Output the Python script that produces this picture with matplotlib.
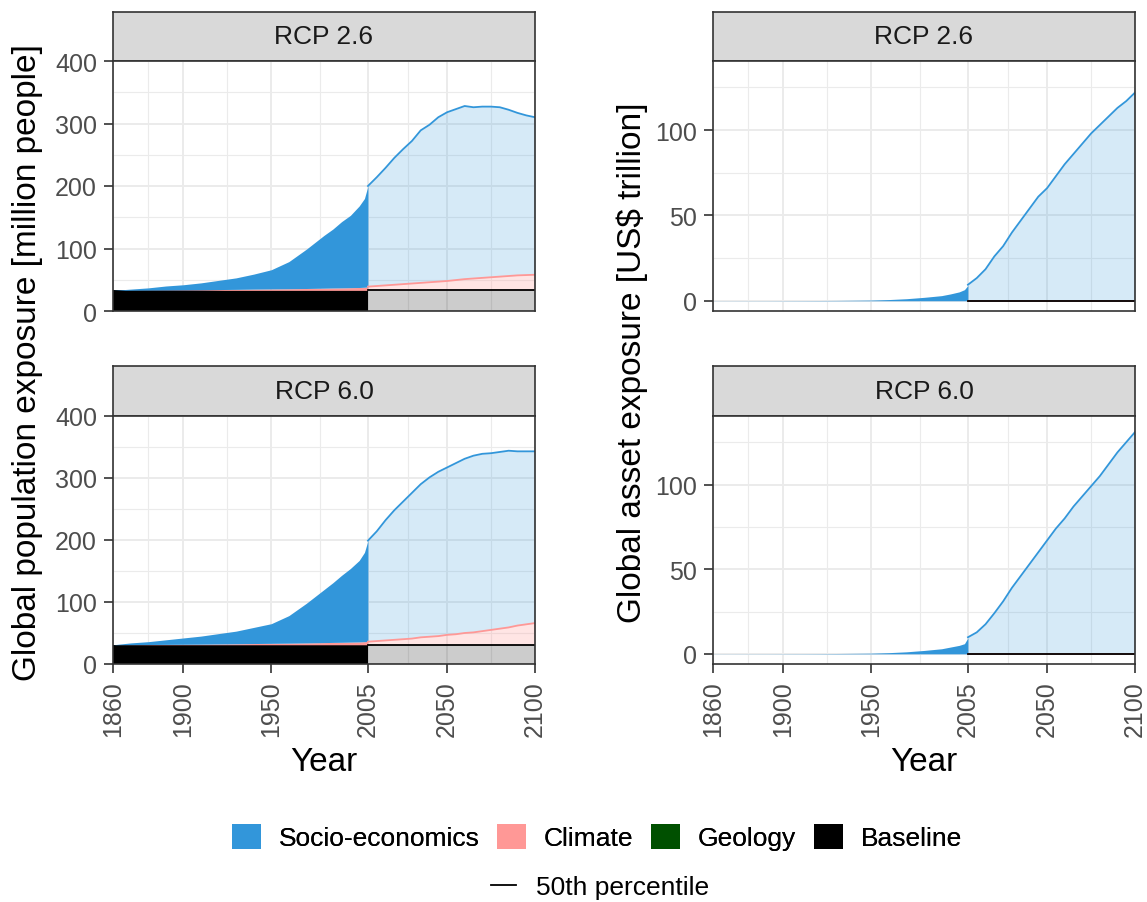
import matplotlib.pyplot as plt
import matplotlib.patches as mpatches
from matplotlib.lines import Line2D
import numpy as np

plt.rcParams["font.family"] = ["Liberation Sans", "DejaVu Sans"]

# ---------------- data ----------------
hist_years = [1860, 1870, 1880, 1890, 1900, 1910, 1920, 1930, 1940, 1950,
              1960, 1970, 1980, 1985, 1990, 1995, 2000, 2003, 2005]
fut_years = [2005, 2010, 2015, 2020, 2025, 2030, 2035, 2040, 2045, 2050,
             2055, 2060, 2065, 2070, 2075, 2080, 2085, 2090, 2095, 2100]

# population exposure (million people), cumulative layer tops
pop_baseline = {"RCP 2.6": 33, "RCP 6.0": 31}
pop_hist_climate = {
    "RCP 2.6": [33, 33.2, 33.4, 33.6, 33.8, 34, 34.3, 34.6, 35, 35.3,
                35.6, 36, 36.5, 36.8, 37, 37.3, 37.6, 38, 38.5],
    "RCP 6.0": [31, 31.2, 31.4, 31.6, 31.8, 32, 32.3, 32.6, 33, 33.3,
                33.6, 34, 34.5, 34.8, 35, 35.3, 35.6, 36, 36.5],
}
pop_hist_socio = {
    "RCP 2.6": [33, 35, 37, 40, 42, 45, 49, 53, 59, 66,
                79, 99, 121, 131, 143, 153, 168, 180, 200],
    "RCP 6.0": [31, 34, 36, 39, 42, 45, 49, 53, 59, 65,
                78, 98, 120, 131, 143, 154, 167, 180, 199],
}
pop_fut_climate = {
    "RCP 2.6": [39, 40, 41, 42, 43, 44, 45, 46, 47, 48,
                49.5, 51, 52, 53, 54, 55, 56, 57, 57.5, 58],
    "RCP 6.0": [36, 37, 38, 39, 40, 41, 43, 44, 45, 47,
                48, 50, 51, 53, 55, 57, 59, 62, 64, 66],
}
pop_fut_socio = {
    "RCP 2.6": [200, 214, 229, 245, 259, 272, 289, 298, 310, 318,
                323, 328, 326, 327, 327, 326, 322, 317, 313, 310],
    "RCP 6.0": [199, 214, 232, 248, 262, 276, 290, 301, 310, 317,
                324, 331, 336, 339, 340, 342, 344, 343, 343, 343],
}

# asset exposure (US$ trillion), cumulative layer tops
asset_baseline = {"RCP 2.6": 0, "RCP 6.0": 0}
asset_hist_climate = {
    "RCP 2.6": [0] * 19,
    "RCP 6.0": [0] * 19,
}
asset_hist_socio = {
    "RCP 2.6": [0.05, 0.06, 0.07, 0.08, 0.1, 0.12, 0.15, 0.2, 0.3, 0.4,
                0.7, 1.2, 2.0, 2.5, 3.0, 4.0, 5.2, 6.5, 9.0],
    "RCP 6.0": [0.05, 0.06, 0.07, 0.08, 0.1, 0.12, 0.15, 0.2, 0.3, 0.4,
                0.7, 1.2, 2.0, 2.5, 3.0, 4.0, 5.0, 6.0, 9.5],
}
asset_fut_climate = {
    "RCP 2.6": [0] * 20,
    "RCP 6.0": [0] * 20,
}
asset_fut_socio = {
    "RCP 2.6": [9.4, 13.3, 18.5, 26, 32, 40, 47, 54, 61, 66,
                73, 80, 86, 92, 98, 103, 108, 113, 117, 122],
    "RCP 6.0": [9.8, 12.7, 17.5, 24, 31, 39, 46, 53, 60, 67,
                74, 80, 87, 93, 99, 105, 112, 119, 125, 131],
}

scenarios = ["RCP 2.6", "RCP 6.0"]
x_ticks = [1860, 1900, 1950, 2005, 2050, 2100]

BLUE = "#3296DA"
PINK = "#FF9896"
GREEN = "#005000"
BLACK = "#000000"
GRID = "#EBEBEB"
FRAME = "#333333"

W, H = 1147, 903
fig = plt.figure(figsize=(W / 100, H / 100), dpi=100)


def px_axes(x0, y0, x1, y1):
    return fig.add_axes([x0 / W, 1 - y1 / H, (x1 - x0) / W, (y1 - y0) / H])


def draw_panel(ax, base, h_clim, h_soc, f_clim, f_soc, ylim, yticks, yminor, bottom):
    hy = np.array(hist_years)
    fy = np.array(fut_years)
    hb = np.full(len(hy), base)
    fb = np.full(len(fy), base)
    # historical: solid stacked areas
    ax.fill_between(hy, 0, hb, color=BLACK, lw=0, zorder=2)
    ax.fill_between(hy, hb, h_clim, color=PINK, lw=0, zorder=2)
    ax.fill_between(hy, h_clim, h_soc, color=BLUE, lw=0, zorder=2)
    # future: light areas with 50th percentile lines
    ax.fill_between(fy, 0, fb, color=BLACK, alpha=0.2, lw=0, zorder=2)
    ax.fill_between(fy, fb, f_clim, color=PINK, alpha=0.25, lw=0, zorder=2)
    ax.fill_between(fy, f_clim, f_soc, color=BLUE, alpha=0.2, lw=0, zorder=2)
    ax.plot(fy, f_soc, color=BLUE, lw=1.3, zorder=3)
    ax.plot(fy, f_clim, color=PINK, lw=1.3, zorder=3)
    ax.plot(fy, fb, color=BLACK, lw=1.3, zorder=3)

    ax.set_xlim(1860, 2100)
    ax.set_ylim(*ylim)
    ax.set_xticks(x_ticks)
    ax.set_xticks([1880, 1925, 1977.5, 2027.5, 2075], minor=True)
    ax.set_yticks(yticks)
    ax.set_yticks(yminor, minor=True)
    ax.grid(True, which="major", color=GRID, lw=1.4, zorder=0)
    ax.grid(True, which="minor", color=GRID, lw=0.8, zorder=0)
    ax.set_axisbelow(True)
    ax.tick_params(which="minor", length=0)
    ax.tick_params(which="major", length=6.5, width=1.2, color=FRAME, pad=5,
                   labelsize=18, labelcolor="#4D4D4D")
    if bottom:
        ax.tick_params(axis="x", labelrotation=90)
    else:
        ax.tick_params(axis="x", length=0, labelbottom=False)
    for s in ax.spines.values():
        s.set_color(FRAME)
        s.set_linewidth(1.2)
        s.set_zorder(5)


def draw_strip(x0, x1, y0, y1, label):
    sax = px_axes(x0, y0, x1, y1)
    sax.set_facecolor("#D9D9D9")
    sax.set_xticks([])
    sax.set_yticks([])
    for s in sax.spines.values():
        s.set_color(FRAME)
        s.set_linewidth(1.2)
    sax.text(0.5, 0.5, label, ha="center", va="center", fontsize=19, color="#1A1A1A",
             transform=sax.transAxes)


rows = [(13, 62, 312), (367, 417, 665)]
cols = [(113, 535), (713, 1135)]

for i, sc in enumerate(scenarios):
    s0, p0, p1 = rows[i]
    bottom = i == 1
    # population
    x0, x1 = cols[0]
    draw_strip(x0, x1, s0, p0, sc)
    ax = px_axes(x0, p0, x1, p1)
    draw_panel(ax, pop_baseline[sc], pop_hist_climate[sc], pop_hist_socio[sc],
               pop_fut_climate[sc], pop_fut_socio[sc], (0, 400),
               [0, 100, 200, 300, 400], [50, 150, 250, 350], bottom)
    # assets
    x0, x1 = cols[1]
    draw_strip(x0, x1, s0, p0, sc)
    ax = px_axes(x0, p0, x1, p1)
    draw_panel(ax, asset_baseline[sc], asset_hist_climate[sc], asset_hist_socio[sc],
               asset_fut_climate[sc], asset_fut_socio[sc], (-6, 140.5),
               [0, 50, 100], [25, 75, 125], bottom)

fig.text(28 / W, 1 - 363 / H, "Global population exposure [million people]",
         rotation=90, ha="center", va="center", fontsize=24)
fig.text(632 / W, 1 - 363 / H, "Global asset exposure [US$ trillion]",
         rotation=90, ha="center", va="center", fontsize=24)
fig.text(324 / W, 1 - 763 / H, "Year", ha="center", va="center", fontsize=24)
fig.text(924 / W, 1 - 763 / H, "Year", ha="center", va="center", fontsize=24)

handles = [mpatches.Patch(facecolor=c, edgecolor="none", label=l)
           for c, l in zip([BLUE, PINK, GREEN, BLACK],
                           ["Socio-economics", "Climate", "Geology", "Baseline"])]
leg1 = fig.legend(handles=handles, loc="center", bbox_to_anchor=(597 / W, 1 - 838 / H),
                  ncol=4, frameon=False, fontsize=19, handlelength=1.1, handleheight=1.1,
                  handletextpad=0.67, columnspacing=0.67)
fig.add_artist(leg1)
fig.legend(handles=[Line2D([0], [0], color=BLACK, lw=1.3, label="50th percentile")],
           loc="center", bbox_to_anchor=(600 / W, 1 - 888 / H), frameon=False,
           fontsize=19, handlelength=0.95, handletextpad=0.74)

fig.savefig("out.png", dpi=100)
